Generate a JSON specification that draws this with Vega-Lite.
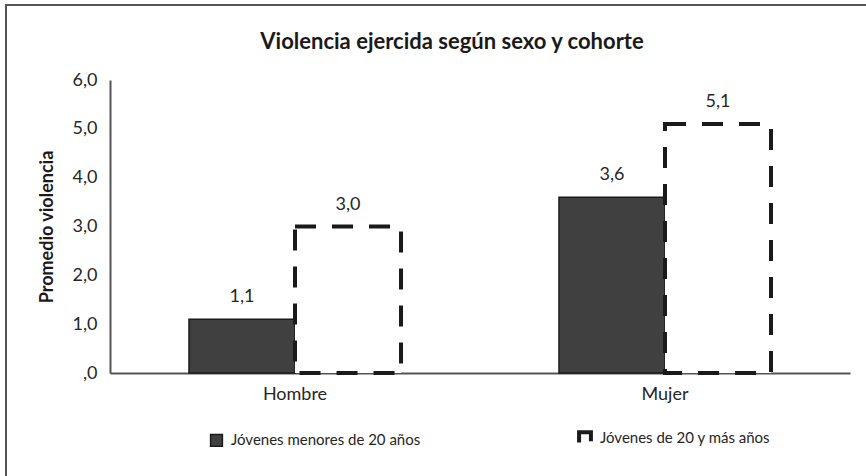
{
  "$schema": "https://vega.github.io/schema/vega-lite/v6.json",
  "width": 866,
  "height": 476,
  "autosize": {"type": "none"},
  "padding": {"left": 6, "top": 5, "right": 0, "bottom": 0},
  "background": "white",
  "config": {
    "font": "Lato",
    "view": {"stroke": "#555555", "strokeWidth": 2},
    "locale": {"number": {"decimal": ",", "thousands": ".", "grouping": [3], "currency": ["", " €"]}}
  },
  "title": {
    "text": "Violencia ejercida según sexo y cohorte",
    "fontSize": 22,
    "fontWeight": "bold",
    "color": "#1a1a1a",
    "anchor": "middle",
    "dx": 13,
    "offset": -49
  },
  "data": {
    "values": [
      {"sexo": "Hombre", "cohorte": "Jóvenes menores de 20 años", "promedio": 1.1},
      {"sexo": "Hombre", "cohorte": "Jóvenes  de 20 y más años", "promedio": 3.0},
      {"sexo": "Mujer", "cohorte": "Jóvenes menores de 20 años", "promedio": 3.6},
      {"sexo": "Mujer", "cohorte": "Jóvenes  de 20 y más años", "promedio": 5.1}
    ]
  },
  "encoding": {
    "x": {
      "field": "sexo",
      "type": "nominal",
      "sort": ["Hombre", "Mujer"],
      "scale": {"range": [104, 844], "paddingInner": 0, "paddingOuter": 0},
      "axis": {
        "orient": "bottom",
        "offset": -108,
        "title": null,
        "labelAngle": 0,
        "labelFontSize": 18,
        "labelColor": "#262626",
        "labelPadding": 12,
        "ticks": false,
        "domainColor": "#555555",
        "domainWidth": 2
      }
    },
    "xOffset": {
      "field": "cohorte",
      "type": "nominal",
      "sort": ["Jóvenes menores de 20 años", "Jóvenes  de 20 y más años"],
      "scale": {"paddingInner": 0, "paddingOuter": 0.745}
    },
    "y": {
      "field": "promedio",
      "type": "quantitative",
      "scale": {"domain": [0, 6], "range": [368, 75], "nice": false, "zero": false},
      "axis": {
        "orient": "left",
        "offset": -104,
        "values": [0, 1, 2, 3, 4, 5, 6],
        "format": ".1f",
        "labelExpr": "datum.value == 0 ? ',0' : datum.label",
        "grid": false,
        "ticks": false,
        "labelFontSize": 18,
        "labelColor": "#262626",
        "labelPadding": 13,
        "domainColor": "#555555",
        "domainWidth": 2,
        "title": "Promedio violencia",
        "titleFontSize": 18,
        "titleFontWeight": "bold",
        "titleColor": "#1a1a1a",
        "titlePadding": 16
      }
    }
  },
  "layer": [
    {
      "mark": {"type": "bar", "stroke": "#1a1a1a"},
      "encoding": {
        "fill": {
          "field": "cohorte",
          "type": "nominal",
          "sort": ["Jóvenes menores de 20 años", "Jóvenes  de 20 y más años"],
          "scale": {"domain": ["Jóvenes menores de 20 años", "Jóvenes  de 20 y más años"], "range": ["#404040", "#ffffff"]},
          "legend": {
            "orient": "none",
            "legendX": 203,
            "legendY": 425,
            "direction": "horizontal",
            "title": null,
            "labelFontSize": 15,
            "labelColor": "#262626",
            "labelLimit": 400,
            "labelOffset": 7,
            "symbolType": "square",
            "symbolSize": 140,
            "symbolStrokeColor": "#1a1a1a",
            "columnPadding": 150
          }
        },
        "strokeDash": {
          "field": "cohorte",
          "type": "nominal",
          "sort": ["Jóvenes menores de 20 años", "Jóvenes  de 20 y más años"],
          "scale": {"domain": ["Jóvenes menores de 20 años", "Jóvenes  de 20 y más años"], "range": [[1, 0], [21, 16]]}
        },
        "strokeWidth": {
          "field": "cohorte",
          "type": "nominal",
          "sort": ["Jóvenes menores de 20 años", "Jóvenes  de 20 y más años"],
          "scale": {"domain": ["Jóvenes menores de 20 años", "Jóvenes  de 20 y más años"], "range": [1.5, 4]}
        }
      }
    },
    {
      "mark": {"type": "text", "fontSize": 18, "color": "#262626", "baseline": "middle", "dy": -22},
      "encoding": {
        "text": {"field": "promedio", "type": "quantitative", "format": ".1f"}
      }
    }
  ]
}
